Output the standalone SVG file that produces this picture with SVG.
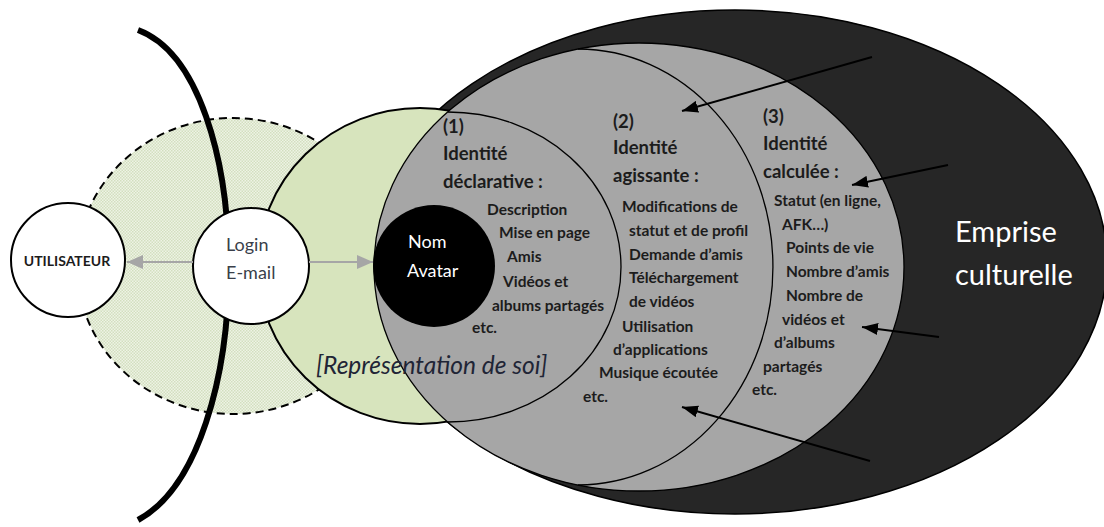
<svg xmlns="http://www.w3.org/2000/svg" width="1104" height="527" viewBox="0 0 1104 527">
<style>
text{font-family:Lato,"Liberation Sans",sans-serif;}
.b{font-weight:bold;fill:#1c1c1c;}
.h{font-size:18.5px;}
.s{font-size:15.5px;}
.w{fill:#ffffff;}
.arc{fill:none;stroke:#000;stroke-width:1.3;}
.blk{stroke:#000;stroke-width:2;fill:none;}
.gry{stroke:#a6a6a6;stroke-width:2;fill:none;}
</style>
<defs>
<pattern id="dots" width="3" height="3" patternUnits="userSpaceOnUse">
<rect width="3" height="3" fill="#eef3e5"/>
<rect width="1.5" height="1.5" fill="#d3dfbf"/>
<rect x="1.5" y="1.5" width="1.5" height="1.5" fill="#d3dfbf"/>
</pattern>
<marker id="ab" markerWidth="16" markerHeight="12" refX="16" refY="6" orient="auto" markerUnits="userSpaceOnUse">
<path d="M0,0 L16,6 L0,12 z" fill="#000"/>
</marker>
<marker id="ag" markerWidth="16" markerHeight="14" refX="16" refY="7" orient="auto" markerUnits="userSpaceOnUse">
<path d="M0,0 L16,7 L0,14 z" fill="#a6a6a6"/>
</marker>
</defs>
<rect width="1104" height="527" fill="#ffffff"/>

<g id="zone-externe">
<ellipse cx="233" cy="266" rx="156" ry="148" fill="url(#dots)" stroke="#000" stroke-width="2" stroke-dasharray="8 5"/>
</g>
<g id="frontiere">
<path d="M138,30 C259,75 259,455 138,520" fill="none" stroke="#000" stroke-width="6"/>
</g>
<g id="emprise-culturelle">
<ellipse cx="735" cy="262" rx="372" ry="252" fill="#262626" stroke="#000" stroke-width="1.5"/>
<text x="955" y="242" class="w" font-size="29">Emprise</text>
<text x="955" y="285" class="w" font-size="29">culturelle</text>
</g>
<g id="representation-de-soi">
<ellipse cx="420" cy="266" rx="162" ry="158" fill="#d7e4bd" stroke="#000" stroke-width="2"/>
</g>
<g id="identite-calculee">
<ellipse cx="639" cy="267" rx="265" ry="224" fill="#a6a6a6" stroke="#000" stroke-width="1.3"/>
<text x="763" y="123" class="b h">(3)</text>
<text x="763" y="150" class="b h">Identité</text>
<text x="763" y="178" class="b h">calculée :</text>
<text x="774" y="206" class="b s">Statut (en ligne,</text>
<text x="782" y="230" class="b s">AFK…)</text>
<text x="786" y="253" class="b s">Points de vie</text>
<text x="786" y="277" class="b s">Nombre d’amis</text>
<text x="786" y="301" class="b s">Nombre de</text>
<text x="782" y="325" class="b s">vidéos et</text>
<text x="774" y="348" class="b s">d’albums</text>
<text x="763" y="372" class="b s">partagés</text>
<text x="752" y="395" class="b s">etc.</text>
</g>
<g id="identite-agissante">
<path class="arc" d="M578,49 A195,218 0 0 1 578,485"/>
<text x="613" y="128" class="b h">(2)</text>
<text x="613" y="154" class="b h">Identité</text>
<text x="613" y="182" class="b h">agissante :</text>
<text x="622" y="212" class="b s">Modifications de</text>
<text x="629" y="236" class="b s">statut et de profil</text>
<text x="629" y="260" class="b s">Demande d’amis</text>
<text x="629" y="283" class="b s">Téléchargement</text>
<text x="629" y="307" class="b s">de vidéos</text>
<text x="622" y="332" class="b s">Utilisation</text>
<text x="613" y="355" class="b s">d’applications</text>
<text x="599" y="378" class="b s">Musique écoutée</text>
<text x="583" y="402" class="b s">etc.</text>
</g>
<g id="identite-declarative">
<path class="arc" d="M448,112 A173,155 0 0 1 448,422"/>
<text x="443" y="133" class="b h">(1)</text>
<text x="443" y="160" class="b h">Identité</text>
<text x="443" y="188" class="b h">déclarative :</text>
<text x="487" y="215" class="b s">Description</text>
<text x="499" y="238" class="b s">Mise en page</text>
<text x="507" y="262" class="b s">Amis</text>
<text x="503" y="287" class="b s">Vidéos et</text>
<text x="492" y="311" class="b s">albums partagés</text>
<text x="472" y="333" class="b s">etc.</text>
</g>
<g id="label-representation">
<text x="316" y="374" font-size="24.5" font-style="italic" fill="#1f2536">[Représentation de soi]</text>
</g>
<g id="nom-avatar">
<circle cx="434" cy="266" r="61" fill="#000"/>
<text x="408" y="248" class="w" font-size="18">Nom</text>
<text x="407" y="277" class="w" font-size="18">Avatar</text>
</g>
<g id="utilisateur">
<circle cx="68" cy="260" r="57" fill="#fff" stroke="#000" stroke-width="2"/>
<text x="67" y="266" text-anchor="middle" font-size="14" font-weight="bold" fill="#1c1c1c">UTILISATEUR</text>
</g>
<g id="login">
<circle cx="251" cy="266" r="58" fill="#fff" stroke="#000" stroke-width="2"/>
<text x="226" y="251" font-size="18" fill="#3a3f4a">Login</text>
<text x="226" y="279" font-size="18" fill="#3a3f4a">E-mail</text>
</g>
<g id="connecteurs">
<line class="gry" x1="193" y1="262" x2="127" y2="262" marker-end="url(#ag)"/>
<line class="gry" x1="309" y1="262" x2="373" y2="262" marker-end="url(#ag)"/>
<line class="blk" x1="872" y1="57" x2="682" y2="111" marker-end="url(#ab)"/>
<line class="blk" x1="948" y1="165" x2="852" y2="185" marker-end="url(#ab)"/>
<line class="blk" x1="939" y1="337" x2="862" y2="327" marker-end="url(#ab)"/>
<line class="blk" x1="870" y1="461" x2="682" y2="407" marker-end="url(#ab)"/>
</g>
</svg>
